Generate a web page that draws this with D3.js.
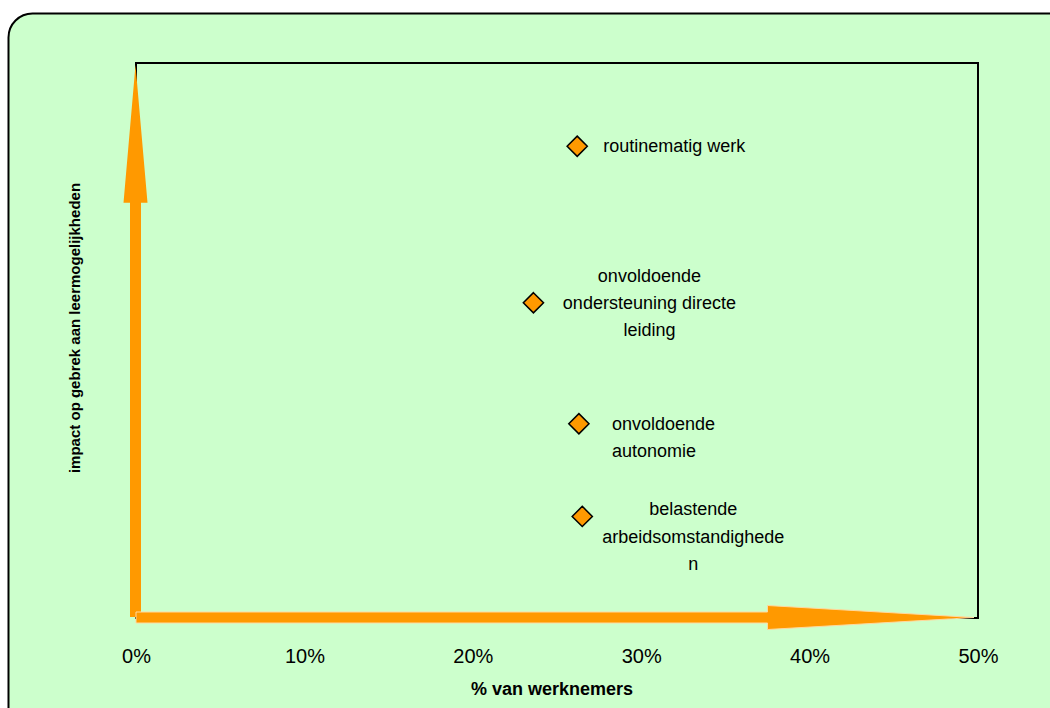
<!DOCTYPE html>
<html>
<head>
<meta charset="utf-8">
<script src="https://cdn.jsdelivr.net/npm/d3@7"></script>
<style>
  html, body { margin: 0; padding: 0; background: #ffffff; }
  svg { display: block; }
  text { font-family: "Liberation Sans", Arial, sans-serif; fill: #000; }
</style>
</head>
<body>
<svg id="chart" width="1050" height="708"></svg>
<script>
// ---- data ----
const categories = [
  "routinematig werk",
  "onvoldoende ondersteuning directe leiding",
  "onvoldoende autonomie",
  "belastende arbeidsomstandigheden"
];
const labelLines = [
  ["routinematig werk"],
  ["onvoldoende", "ondersteuning directe", "leiding"],
  ["onvoldoende", "autonomie"],
  ["belastende", "arbeidsomstandighede", "n"]
];
const pctWerknemers = [0.262, 0.236, 0.263, 0.265];
const impactValues = [0.85, 0.568, 0.35, 0.183];
const xTicks = [0, 0.1, 0.2, 0.3, 0.4, 0.5];
const xTitle = "% van werknemers";
const yTitle = "impact op gebrek aan leermogelijkheden";

// ---- layout ----
const svg = d3.select("#chart");
const W = 1050, H = 708;
const plot = { left: 136, right: 978, top: 63, bottom: 618 };
const orange = "#FF9900";

const x = d3.scaleLinear().domain([0, 0.5]).range([plot.left, plot.right]);
const y = d3.scaleLinear().domain([0, 1]).range([plot.bottom, plot.top]);

// background
svg.append("rect").attr("x", 0).attr("y", 0).attr("width", W).attr("height", H).attr("fill", "#ffffff");
svg.append("rect")
  .attr("x", 8.5).attr("y", 13.5).attr("width", 1070).attr("height", 730)
  .attr("rx", 24).attr("ry", 24)
  .attr("fill", "#CCFFCC").attr("stroke", "#000").attr("stroke-width", 2);

// plot border
svg.append("rect")
  .attr("x", x(0)).attr("y", y(1))
  .attr("width", x(0.5) - x(0)).attr("height", y(0) - y(1))
  .attr("fill", "none").attr("stroke", "#000").attr("stroke-width", 2);

// x axis tick labels
const xAxis = d3.axisBottom(x).tickValues(xTicks).tickFormat(d3.format(".0%")).tickSize(0).tickPadding(0);
const gx = svg.append("g").attr("transform", `translate(0,${plot.bottom})`).call(xAxis);
gx.select(".domain").remove();
gx.selectAll("text")
  .attr("dy", null).attr("y", 45)
  .style("font-family", '"Liberation Sans", Arial, sans-serif')
  .style("font-size", "20px").attr("fill", "#000");

// arrows
const shaft = 11, head = 24;
// vertical arrow
const vx = x(0) - 0.5;
const vHeadBase = y(0.748);
svg.append("path")
  .attr("d", `M${vx - shaft/2},${y(0) - 1} L${vx - shaft/2},${vHeadBase} L${vx - head/2},${vHeadBase} L${vx},${y(1) + 2} L${vx + head/2},${vHeadBase} L${vx + shaft/2},${vHeadBase} L${vx + shaft/2},${y(0) - 1} Z`)
  .attr("fill", orange);
// horizontal arrow
const hy = y(0) - 0.5;
const hHeadBase = x(0.375);
svg.append("path")
  .attr("d", `M${x(0)},${hy - shaft/2} L${hHeadBase},${hy - shaft/2} L${hHeadBase},${hy - head/2} L${x(0.5) - 4},${hy} L${hHeadBase},${hy + head/2} L${hHeadBase},${hy + shaft/2} L${x(0)},${hy + shaft/2} Z`)
  .attr("fill", orange).attr("stroke", "#FFD9A0").attr("stroke-width", 1);

// points
const pts = categories.map((c, i) => ({ c, xv: pctWerknemers[i], yv: impactValues[i], lines: labelLines[i] }));
const diamond = d3.symbol().type(d3.symbolDiamond2).size(260);
svg.selectAll("path.pt").data(pts).join("path")
  .attr("class", "pt")
  .attr("transform", d => `translate(${x(d.xv)},${y(d.yv)}) rotate(0)`)
  .attr("d", diamond)
  .attr("fill", orange).attr("stroke", "#000").attr("stroke-width", 1.5);

// labels: [dx, first-line dy, anchor]
const labelPlace = [
  [26, 6, "start"],
  [116, -21, "middle"],
  [33, 6, "start"],
  [111, -1, "middle"]
];
const lineH = 27.3;
pts.forEach((d, i) => {
  const [dx, dy, anchor] = labelPlace[i];
  const t = svg.append("text")
    .attr("x", x(d.xv) + dx).attr("y", y(d.yv) + dy)
    .attr("text-anchor", anchor)
    .style("font-size", "18px");
  d.lines.forEach((ln, j) => {
    t.append("tspan").attr("x", x(d.xv) + dx).attr("y", y(d.yv) + dy + j * lineH).text(ln);
  });
});

// axis titles
svg.append("text")
  .attr("x", 552).attr("y", 695)
  .attr("text-anchor", "middle")
  .style("font-size", "18px").style("font-weight", "bold")
  .text(xTitle);
svg.append("text")
  .attr("transform", "translate(80,328) rotate(-90)")
  .attr("text-anchor", "middle")
  .style("font-size", "15px").style("font-weight", "bold")
  .text(yTitle);
</script>
</body>
</html>
